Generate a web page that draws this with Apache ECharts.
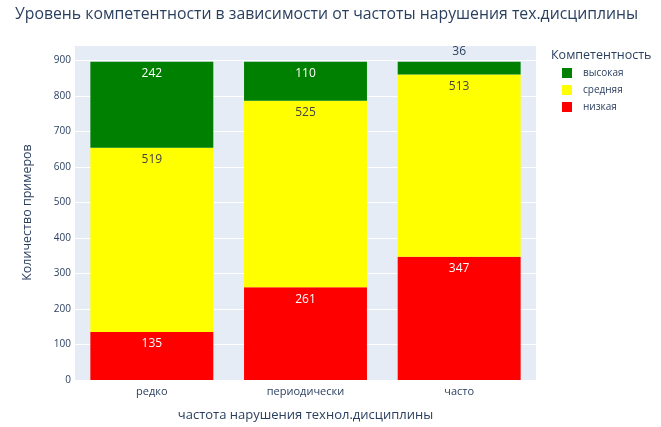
<!DOCTYPE html>
<html>
<head>
<meta charset="utf-8">
<script src="https://cdn.jsdelivr.net/npm/echarts@6/dist/echarts.min.js"></script>
<style>
html,body{margin:0;padding:0;background:#fff;}
#chart{width:661px;height:427px;}
</style>
</head>
<body>
<div id="chart"></div>
<script>
// Categories: frequency of violating technological discipline
const categories = ['редко', 'периодически', 'часто'];
// Competence levels, stacked bottom to top
const lowValues = [135, 261, 347];
const midValues = [519, 525, 513];
const highValues = [242, 110, 36];
const yTicks = [0, 100, 200, 300, 400, 500, 600, 700, 800, 900];

const txt = '#2a3f5f';
const font = 'Open Sans, Liberation Sans, DejaVu Sans, sans-serif';

// Short segments don't fit their text, so it goes above the bar
function items(values, insideColor) {
  return values.map(v => v < 60
    ? { value: v, label: { position: 'top', color: txt, distance: 4 } }
    : { value: v, label: { color: insideColor } });
}

function series(name, color, values, labelColor) {
  return {
    name: name,
    type: 'bar',
    stack: 'total',
    barCategoryGap: '20%',
    itemStyle: { color: color },
    label: {
      show: true,
      position: 'insideTop',
      distance: 6,
      fontSize: 12,
      fontFamily: font,
      color: labelColor
    },
    data: items(values, labelColor)
  };
}

const chart = echarts.init(document.getElementById('chart'), null, { renderer: 'canvas' });
chart.setOption({
  animation: false,
  backgroundColor: '#fff',
  title: [
    {
      text: 'Уровень компетентности в зависимости от частоты нарушения тех.дисциплины',
      left: 10, top: 1,
      textStyle: { fontSize: 15.8, fontWeight: 'normal', color: txt, fontFamily: font }
    },
    {
      text: 'Компетентность',
      left: 546, top: 44,
      textStyle: { fontSize: 12.5, fontWeight: 'normal', color: txt, fontFamily: font }
    }
  ],
  legend: {
    orient: 'vertical',
    left: 557, top: 63,
    itemWidth: 10, itemHeight: 10, itemGap: 7,
    icon: 'rect',
    data: ['высокая', 'средняя', 'низкая'],
    textStyle: { fontSize: 10, color: txt, fontFamily: font, padding: [0, 0, 0, 6] }
  },
  grid: {
    left: 75, right: 125, top: 45, bottom: 36,
    show: true, backgroundColor: '#E5ECF6', borderWidth: 0
  },
  xAxis: {
    type: 'category',
    data: categories,
    name: 'частота нарушения технол.дисциплины',
    nameLocation: 'middle',
    nameGap: 29,
    nameTextStyle: { fontSize: 13, color: txt, fontFamily: font },
    axisLine: { show: false },
    axisTick: { show: false },
    axisLabel: { fontSize: 11, color: txt, margin: 6, fontFamily: font }
  },
  yAxis: {
    type: 'value',
    min: 0, max: 943, interval: 100,
    name: 'Количество примеров',
    nameLocation: 'middle',
    nameGap: 41,
    nameTextStyle: { fontSize: 12.5, color: txt, fontFamily: font },
    axisLine: { show: false },
    axisTick: { show: false },
    axisLabel: {
      fontSize: 10, color: txt, margin: 4, fontFamily: font,
      formatter: v => yTicks.includes(v) ? String(v) : ''
    },
    splitLine: { lineStyle: { color: '#fff', width: 1 } }
  },
  series: [
    series('низкая', '#ff0000', lowValues, '#ffffff'),
    series('средняя', '#ffff00', midValues, '#444444'),
    series('высокая', '#008000', highValues, '#ffffff')
  ]
});
</script>
</body>
</html>
